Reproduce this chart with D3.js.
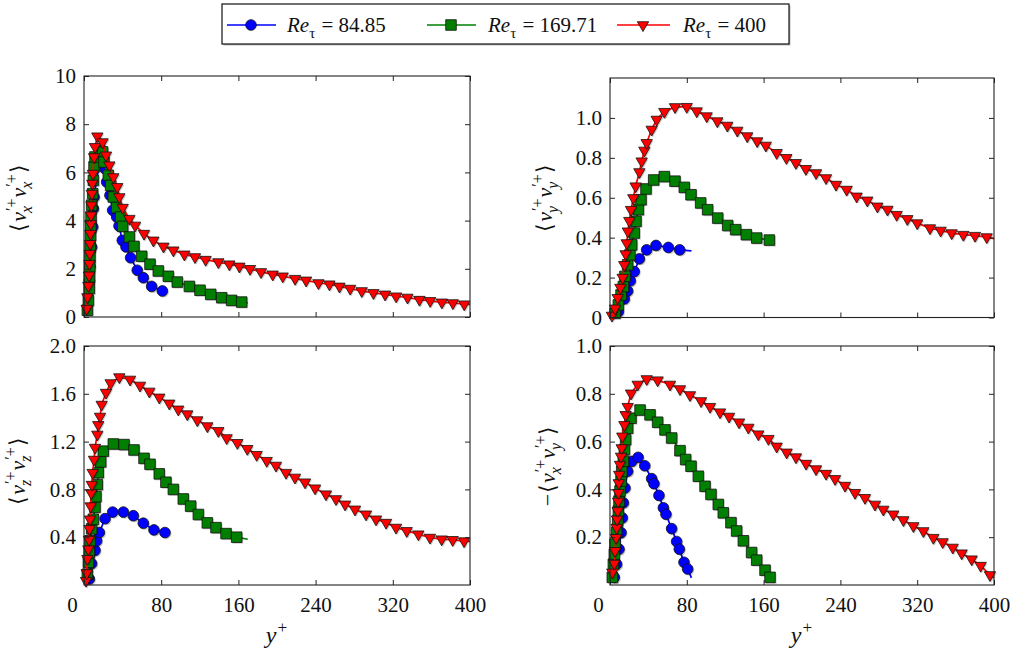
<!DOCTYPE html>
<html><head><meta charset="utf-8">
<script src="https://cdn.jsdelivr.net/npm/d3@7"></script>
<style>
body{margin:0;background:#fff}
svg{display:block}
svg text{font-family:"Liberation Serif","Times New Roman",serif !important; white-space:pre;}
</style>
</head><body>
<svg id="c" width="1019" height="657"></svg>
<script>
// ---------------- data ----------------
const reTau = [84.85, 169.71, 400];
const seriesLabels = ["84.85", "169.71", "400"];
const xTicks = [0, 80, 160, 240, 320, 400];
const vxxTicks = [0, 2, 4, 6, 8, 10];
const vyyTicks = [0, 0.2, 0.4, 0.6, 0.8, 1.0];
const vzzTicks = [0.4, 0.8, 1.2, 1.6, 2.0];
const vxyTicks = [0.2, 0.4, 0.6, 0.8, 1.0];

// <vx'vx'>
const vxx_re85_y = [5.5, 6.2, 7.9, 9, 9.7, 10.4, 16.6, 21.8, 23.5, 26.9, 29.7, 33.9, 36.3, 39.7, 43.5, 48.3, 55.2, 61.5, 70.1, 81.2];
const vxx_re85_v = [1.5, 2.1, 2.9, 3.74, 4.5, 4.98, 6.57, 6.15, 5.6, 5.05, 4.43, 4.15, 3.78, 3.18, 2.91, 2.46, 1.94, 1.63, 1.27, 1.08];
const vxx_re170_y = [3.5, 4.5, 5.5, 5.7, 6.0, 6.2, 6.4, 6.8, 7.0, 7.3, 7.9, 9, 9.7, 10.4, 11.4, 15.9, 19.3, 20.7, 25.2, 27.6, 30.4, 33.8, 38, 40.1, 47, 51.8, 59.8, 68.4, 77, 87.4, 96.7, 109.2, 120.2, 131.3, 142.7, 153, 163.4];
const vxx_re170_v = [0.28, 0.69, 1.18, 1.66, 2.08, 2.5, 2.91, 3.39, 3.74, 4.15, 4.64, 5.12, 5.67, 6.23, 6.64, 6.95, 6.85, 6.43, 5.88, 5.46, 4.98, 4.54, 4.15, 3.76, 3.32, 2.93, 2.52, 2.19, 1.91, 1.69, 1.45, 1.27, 1.11, 0.94, 0.8, 0.69, 0.62];
const vxx_re400_y = [2.8, 3.5, 4.5, 5.2, 5.6, 6.0, 6.3, 6.7, 7.0, 7.3, 7.7, 8.1, 8.6, 9.2, 10.4, 11.4, 13.8, 19.3, 22.8, 26.3, 30.4, 34.5, 36.6, 40.1, 47, 52.9, 62.2, 71.9, 82.3, 92.6, 104, 115, 126, 139.2, 150.6, 161, 172, 183.4, 195.5, 205.9, 218.7, 230.1, 242.9, 254.3, 264.7, 275.8, 287.8, 299.9, 312, 323.4, 335.2, 347.6, 358.7, 370.8, 382.2, 394];
const vxx_re400_v = [0.35, 0.83, 1.3, 1.73, 2.21, 2.63, 3.04, 3.46, 3.87, 4.22, 4.64, 5.12, 5.54, 5.95, 6.64, 7.06, 7.5, 7.26, 6.71, 6.3, 5.81, 5.4, 4.98, 4.54, 4.08, 3.8, 3.46, 3.18, 2.93, 2.77, 2.6, 2.49, 2.38, 2.28, 2.19, 2.1, 2.0, 1.87, 1.77, 1.69, 1.59, 1.52, 1.41, 1.36, 1.27, 1.18, 1.08, 1.0, 0.94, 0.86, 0.81, 0.72, 0.67, 0.61, 0.58, 0.53];
const vxx_tail = [1.02, 0.58, 0.52];

// <vy'vy'>
const vyy_re85_y = [8.7, 14.9, 18.4, 21.2, 25.3, 30.6, 38.2, 47.9, 60.8, 72.6];
const vyy_re85_v = [0.029, 0.093, 0.133, 0.184, 0.23, 0.294, 0.339, 0.361, 0.351, 0.339];
const vyy_re170_y = [5.2, 8.7, 11.5, 13.9, 15.6, 18.4, 20.8, 22.6, 25.3, 27.1, 29.5, 32.3, 37.5, 45.5, 56.6, 67.7, 77.4, 84.4, 94.4, 101.7, 112.2, 122.6, 130.9, 142, 152.8, 166];
const vyy_re170_v = [0.021, 0.063, 0.113, 0.155, 0.206, 0.264, 0.314, 0.364, 0.423, 0.482, 0.54, 0.59, 0.644, 0.689, 0.706, 0.683, 0.652, 0.615, 0.574, 0.54, 0.498, 0.461, 0.44, 0.415, 0.398, 0.388];
const vyy_re400_y = [2, 5.2, 8, 10.8, 13.2, 14.9, 16.3, 17.4, 18.6, 20.1, 21.9, 24.3, 26.7, 30.6, 33, 35.8, 38.2, 43.4, 48.6, 56.6, 67.7, 79.9, 90.3, 100.7, 111.8, 122.2, 132.6, 142.9, 153.3, 162.3, 173.6, 183.7, 193.6, 204, 214.6, 225, 235.4, 246.5, 256.9, 268, 278.5, 289, 298.6, 309.7, 320, 333.3, 344.4, 355.9, 368, 380.2, 392.4];
const vyy_re400_v = [0.01, 0.046, 0.099, 0.15, 0.2, 0.264, 0.318, 0.373, 0.432, 0.485, 0.54, 0.599, 0.658, 0.729, 0.783, 0.837, 0.875, 0.942, 0.992, 1.031, 1.055, 1.056, 1.034, 1.009, 0.984, 0.962, 0.937, 0.909, 0.884, 0.862, 0.825, 0.8, 0.775, 0.745, 0.724, 0.699, 0.666, 0.641, 0.607, 0.587, 0.557, 0.541, 0.515, 0.494, 0.473, 0.448, 0.436, 0.423, 0.415, 0.41, 0.403];
const vyy_tail = [0.334, 0.385, 0.395];

// <vz'vz'>
const vzz_re85_y = [5.5, 7.9, 11.4, 13.1, 15.9, 21.8, 29.7, 40.8, 51.1, 61.5, 72.5, 83.9];
const vzz_re85_v = [0.05, 0.18, 0.29, 0.37, 0.44, 0.555, 0.61, 0.61, 0.58, 0.517, 0.461, 0.439];
const vzz_re170_y = [3.5, 4.5, 5.5, 6.2, 7.9, 9.7, 11.4, 12.4, 13.8, 14.8, 17.3, 20, 30.4, 41.5, 51.8, 62.2, 68.4, 78, 84.9, 92.6, 102.9, 110.5, 118.5, 127.8, 136.8, 147.2, 158.2];
const vzz_re170_v = [0.09, 0.19, 0.27, 0.37, 0.47, 0.55, 0.65, 0.74, 0.84, 0.94, 1.03, 1.12, 1.18, 1.175, 1.13, 1.06, 1.01, 0.93, 0.86, 0.8, 0.72, 0.66, 0.59, 0.52, 0.48, 0.43, 0.4];
const vzz_re400_y = [2.1, 2.8, 3.5, 4.5, 5.2, 5.7, 6.2, 6.9, 7.5, 8.1, 9, 10.4, 11.4, 13.8, 14.8, 16.6, 18.3, 22.8, 27.6, 36.6, 47.7, 58, 67.7, 78, 88.4, 97.7, 107, 117.4, 127.8, 139.2, 147.8, 158.9, 169.2, 178.9, 189.3, 198.9, 209.3, 218.6, 229, 239.4, 250.7, 261.1, 270.5, 280.8, 292.2, 302.6, 313, 323.3, 334.4, 346.5, 358.5, 370.6, 382, 393.8];
const vzz_re400_v = [0.036, 0.1, 0.22, 0.3, 0.38, 0.47, 0.55, 0.66, 0.77, 0.84, 0.94, 1.05, 1.15, 1.26, 1.34, 1.41, 1.51, 1.61, 1.69, 1.74, 1.72, 1.67, 1.62, 1.57, 1.52, 1.47, 1.43, 1.38, 1.33, 1.29, 1.23, 1.19, 1.14, 1.09, 1.04, 1.0, 0.94, 0.9, 0.86, 0.81, 0.76, 0.72, 0.675, 0.633, 0.592, 0.55, 0.522, 0.481, 0.453, 0.425, 0.397, 0.383, 0.378, 0.367];
const vzz_tail = [0.435, 0.383, 0.365];

// -<vx'vy'>
const vxy_re85_y = [4.5, 6.9, 9.4, 11.5, 12.8, 13.9, 15.6, 18.4, 22.6, 29.3, 36.2, 43.4, 45.8, 51, 55.6, 58.3, 64.2, 69.4, 72.2, 77.1, 80.9];
const vxy_re85_v = [0.032, 0.087, 0.15, 0.219, 0.281, 0.344, 0.406, 0.476, 0.517, 0.534, 0.499, 0.445, 0.424, 0.375, 0.323, 0.296, 0.236, 0.182, 0.15, 0.095, 0.067];
const vxy_re170_y = [2.4, 3.5, 4.5, 5.2, 6.9, 8, 8.7, 9.4, 10.4, 11.5, 12.2, 13.9, 15, 16.3, 18.4, 21.9, 31.3, 41.7, 49.6, 57.3, 64.2, 72.9, 78.8, 84.4, 92, 99, 105.2, 112.8, 118, 126, 131.9, 138.9, 147.5, 152.8, 161.5, 166.7];
const vxy_re170_v = [0.032, 0.087, 0.129, 0.171, 0.22, 0.268, 0.31, 0.351, 0.393, 0.435, 0.476, 0.518, 0.566, 0.608, 0.656, 0.698, 0.732, 0.712, 0.681, 0.649, 0.615, 0.562, 0.525, 0.497, 0.455, 0.413, 0.379, 0.337, 0.302, 0.261, 0.226, 0.185, 0.136, 0.104, 0.062, 0.032];
const vxy_re400_y = [2.4, 4.5, 5.2, 6.25, 6.9, 7.3, 8, 8.4, 8.7, 9.1, 9.6, 10.4, 11.5, 12.2, 12.8, 15, 16.3, 18.4, 21.9, 28.8, 38.2, 49.6, 62.5, 72.9, 83.3, 94.8, 104.2, 114.6, 124, 134.4, 144.1, 154.5, 165, 173.6, 184, 193.7, 204.2, 214.6, 225, 234.4, 244.8, 255.2, 265.6, 276, 284.7, 295.1, 305.6, 316, 326.4, 336.8, 346.5, 357, 366.3, 376.7, 386.1, 395.8];
const vxy_re400_v = [0.053, 0.09, 0.143, 0.198, 0.24, 0.275, 0.31, 0.35, 0.386, 0.427, 0.462, 0.504, 0.538, 0.573, 0.622, 0.67, 0.712, 0.746, 0.802, 0.839, 0.862, 0.857, 0.839, 0.82, 0.795, 0.77, 0.746, 0.723, 0.705, 0.681, 0.659, 0.631, 0.612, 0.58, 0.555, 0.535, 0.508, 0.485, 0.466, 0.444, 0.416, 0.386, 0.365, 0.337, 0.316, 0.296, 0.272, 0.247, 0.226, 0.198, 0.18, 0.157, 0.133, 0.108, 0.081, 0.042];
const vxy_tail = [0.03, 0.01, 0.03];

// ---------------- drawing ----------------
const FONT = "Liberation Serif";
const colors = ["#0000ff", "#007f00", "#ff0000"];
const symbols = [d3.symbolCircle, d3.symbolSquare, d3.symbolTriangle];
const symSize = [90, 112, 56];
const symRot = [0, 0, 180];

const svg = d3.select("#c").attr("font-family", FONT);

function drawMath(parent, parts, size) {
  const inner = parent.append("g");
  let x = 0;
  parts.forEach(p => {
    if (p.t !== undefined) {
      const t = inner.append("text").attr("x", x).attr("y", 0)
        .attr("font-size", size).style("font-style", p.i ? "italic" : "normal").text(p.t);
      x += t.node().getComputedTextLength() + (p.pad || 0);
    } else {
      const ss = size * 0.72;
      let w = 0;
      if (p.sup) {
        const t = inner.append("text").attr("x", x + (p.supdx || 0)).attr("y", -size * 0.4)
          .attr("font-size", ss).text(p.sup);
        w = Math.max(w, t.node().getComputedTextLength() + (p.supdx || 0));
      }
      if (p.sub) {
        const t = inner.append("text").attr("x", x + (p.subdx || 0)).attr("y", size * 0.27)
          .attr("font-size", ss).style("font-style", p.subi === false ? "normal" : "italic").text(p.sub);
        w = Math.max(w, t.node().getComputedTextLength() + (p.subdx || 0));
      }
      x += w + 1;
    }
  });
  return { inner, width: x };
}

function vlabel(a, b, neg) {
  const parts = [];
  if (neg) parts.push({ t: "\u2212", pad: 1 });
  parts.push({ t: "\u27E8", pad: 1 });
  parts.push({ t: "v", i: true });
  parts.push({ sup: "\u2032+", sub: a, subdx: -1, supdx: 1 });
  parts.push({ t: "v", i: true });
  parts.push({ sup: "\u2032+", sub: b, subdx: -1, supdx: 1 });
  parts.push({ t: "\u27E9" });
  return parts;
}

const panels = [
  { box: { l: 84, r: 470, t: 76, b: 317 }, ydom: [0, 10], yticks: vxxTicks, fmt: d => String(d),
    ys: [vxx_re85_y, vxx_re170_y, vxx_re400_y], vs: [vxx_re85_v, vxx_re170_v, vxx_re400_v], tail: vxx_tail,
    label: vlabel("x", "x"), lx: 20, ly: 198, xlab: false },
  { box: { l: 610, r: 994, t: 78, b: 317.5 }, ydom: [0, 1.2], yticks: vyyTicks, fmt: d => d === 0 ? "0" : d.toFixed(1),
    ys: [vyy_re85_y, vyy_re170_y, vyy_re400_y], vs: [vyy_re85_v, vyy_re170_v, vyy_re400_v], tail: vyy_tail,
    label: vlabel("y", "y"), lx: 546, ly: 198, xlab: false },
  { box: { l: 84, r: 470, t: 346, b: 585 }, ydom: [0, 2.0], yticks: vzzTicks, fmt: d => d.toFixed(1),
    ys: [vzz_re85_y, vzz_re170_y, vzz_re400_y], vs: [vzz_re85_v, vzz_re170_v, vzz_re400_v], tail: vzz_tail,
    label: vlabel("z", "z"), lx: 19, ly: 471, xlab: true },
  { box: { l: 610, r: 994, t: 346, b: 585 }, ydom: [0, 1.0], yticks: vxyTicks, fmt: d => d.toFixed(1),
    ys: [vxy_re85_y, vxy_re170_y, vxy_re400_y], vs: [vxy_re85_v, vxy_re170_v, vxy_re400_v], tail: vxy_tail,
    label: vlabel("x", "y", true), lx: 549, ly: 466, xlab: true }
];

panels.forEach(P => {
  const B = P.box;
  const x = d3.scaleLinear().domain([0, 400]).range([B.l, B.r]);
  const y = d3.scaleLinear().domain(P.ydom).range([B.b, B.t]);
  const g = svg.append("g");

  const line = d3.line().x(d => x(d[0])).y(d => y(d[1]));
  [0, 1, 2].forEach(k => {
    const pts = P.ys[k].map((yy, i) => [yy, P.vs[k][i]]);
    const lpts = pts.concat([[reTau[k], P.tail[k]]]);
    g.append("path").attr("d", line(lpts)).attr("fill", "none")
      .attr("stroke", colors[k]).attr("stroke-width", 1.7);
    const sym = d3.symbol().type(symbols[k]).size(symSize[k]);
    g.append("g").selectAll("path").data(pts).join("path")
      .attr("d", sym)
      .attr("transform", d => `translate(${x(d[0]) + 1.2},${y(d[1]) + 1.2}) rotate(${symRot[k]})`)
      .attr("fill", "#000").attr("opacity", 0.22);
    g.append("g").selectAll("path").data(pts).join("path")
      .attr("d", sym)
      .attr("transform", d => `translate(${x(d[0])},${y(d[1])}) rotate(${symRot[k]})`)
      .attr("fill", colors[k]).attr("stroke", "#111").attr("stroke-width", 0.8);
  });

  g.append("rect").attr("x", B.l).attr("y", B.t).attr("width", B.r - B.l).attr("height", B.b - B.t)
    .attr("fill", "none").attr("stroke", "#222").attr("stroke-width", 1.1);

  const tickFont = s => { s.attr("font-family", FONT).attr("font-size", 21); s.selectAll("text").attr("fill", "#111"); };
  const clean = s => { s.select(".domain").remove(); s.selectAll("line").attr("stroke", "#222"); };

  g.append("g").attr("transform", `translate(${B.l},0)`)
    .call(d3.axisLeft(y).tickValues(P.yticks).tickFormat(P.fmt).tickSizeInner(-5).tickSizeOuter(0).tickPadding(8))
    .call(clean).call(tickFont);
  g.append("g").attr("transform", `translate(${B.r},0)`)
    .call(d3.axisRight(y).tickValues(P.yticks).tickFormat("").tickSizeInner(-5).tickSizeOuter(0))
    .call(clean);
  const xb = g.append("g").attr("transform", `translate(0,${B.b})`)
    .call(d3.axisBottom(x).tickValues(xTicks).tickFormat(P.xlab ? d3.format("d") : "").tickSizeInner(-5).tickSizeOuter(0).tickPadding(12))
    .call(clean).call(tickFont);
  if (P.xlab) xb.selectAll(".tick").filter(d => d === 0).select("text").attr("x", -12);
  g.append("g").attr("transform", `translate(0,${B.t})`)
    .call(d3.axisTop(x).tickValues(xTicks).tickFormat("").tickSizeInner(-5).tickSizeOuter(0))
    .call(clean);

  const lg = svg.append("g").attr("transform", `translate(${P.lx + 6},${P.ly}) rotate(-90)`).attr("fill", "#111");
  const m = drawMath(lg, P.label, 22);
  m.inner.attr("transform", `translate(${-m.width / 2},0)`);

  if (P.xlab) {
    const xg = svg.append("g").attr("transform", `translate(${(B.l + B.r) / 2},643)`).attr("fill", "#111");
    const mx = drawMath(xg, [{ t: "y", i: true }, { sup: "+", supdx: 1 }], 24);
    mx.inner.attr("transform", `translate(${-mx.width / 2},0)`);
  }
});

// legend
const legX = [[227, 276, 251, 287], [427, 476, 451, 488], [617, 670, 643, 683]];
const leg = svg.append("g");
leg.append("rect").attr("x", 223.5).attr("y", 5.5).attr("width", 567).attr("height", 40).attr("fill", "#bbb");
leg.append("rect").attr("x", 222).attr("y", 4).attr("width", 567).attr("height", 40)
  .attr("fill", "#fff").attr("stroke", "#111").attr("stroke-width", 1.2);
seriesLabels.forEach((lab, k) => {
  const [x1, x2, cx, tx] = legX[k];
  leg.append("line").attr("x1", x1).attr("x2", x2).attr("y1", 25).attr("y2", 25)
    .attr("stroke", colors[k]).attr("stroke-width", 1.7);
  leg.append("path").attr("d", d3.symbol().type(symbols[k]).size(symSize[k])())
    .attr("transform", `translate(${cx},25) rotate(${symRot[k]})`)
    .attr("fill", colors[k]).attr("stroke", "#111").attr("stroke-width", 0.8);
  const tg = leg.append("g").attr("transform", `translate(${tx},32)`).attr("fill", "#111");
  drawMath(tg, [{ t: "Re", i: true }, { sub: "\u03C4", subi: false, subdx: 0 }, { t: "\u00A0=\u00A0" }, { t: lab }], 21);
});
</script>
</body></html>
